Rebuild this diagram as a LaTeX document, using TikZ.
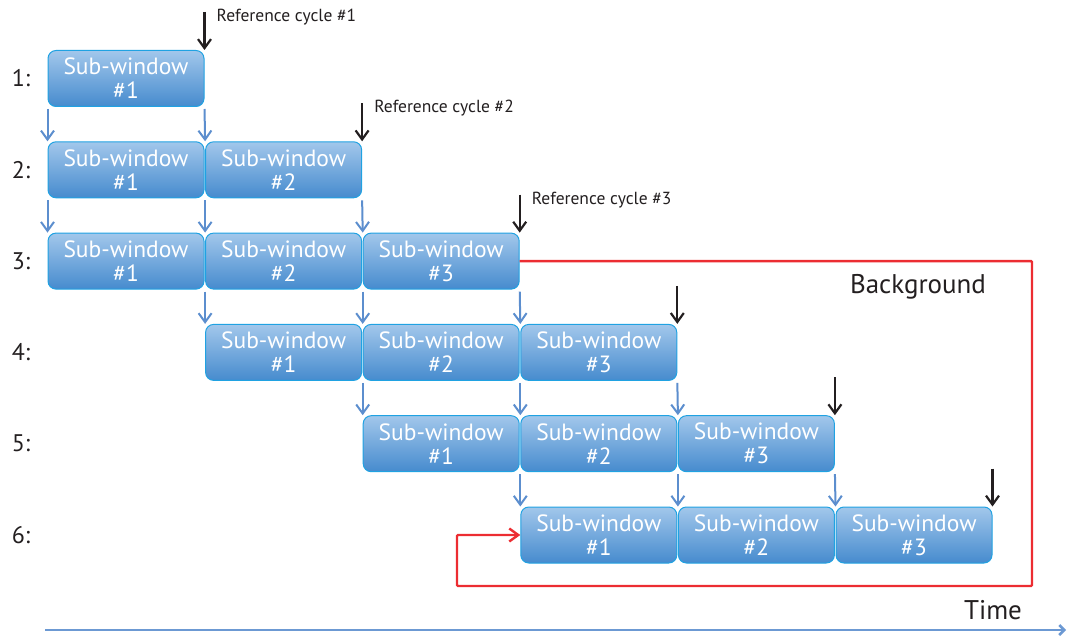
\documentclass[tikz,border=0pt]{standalone}
\usepackage{fontspec}
\setmainfont{PT Sans}
\usetikzlibrary{arrows.meta}

\definecolor{swtop}{RGB}{162,199,235}
\definecolor{swbot}{RGB}{70,139,206}
\definecolor{swline}{RGB}{32,162,226}
\definecolor{flow}{RGB}{92,142,206}
\definecolor{ink}{RGB}{35,31,32}
\definecolor{bgred}{RGB}{236,45,50}

\tikzset{
  subwin/.style={draw=swline,line width=1pt,rounded corners=8pt,
    top color=swtop,bottom color=swbot,minimum width=156pt,minimum height=56pt,
    inner sep=0pt,align=center,text=white,font=\fontsize{23.5}{24}\selectfont},
  tick/.style={-{Straight Barb[length=9pt,width=13pt]}},
  flowarrow/.style={tick,draw=flow,line width=2pt,shorten <=2pt},
  refarrow/.style={tick,draw=ink,line width=2.2pt},
  loopline/.style={tick,draw=bgred,line width=2.4pt,rounded corners=1pt},
  rowlab/.style={text=ink,font=\fontsize{24}{26}\selectfont},
  biglab/.style={text=ink,font=\fontsize{27}{29}\selectfont},
  reflab/.style={text=ink,anchor=west,inner sep=1pt,font=\fontsize{17.5}{19}\selectfont}
}

\begin{document}
\begin{tikzpicture}[x=1pt,y=-1pt]
\useasboundingbox (0,0) rectangle (1067,636);

% sub-windows, row by row
\foreach \r/\s/\n in {1/0/1,2/0/2,3/0/3,4/1/3,5/2/3,6/3/3}{
  \node[rowlab] (l\r) at (21,{78.5+91.3*(\r-1)}) {\r:};
  \foreach \k in {1,...,\n}{
    \pgfmathtruncatemacro\c{\s+\k-1}
    \node[subwin] (n\r\c) at ({126+157.6*\c},{78.5+91.3*(\r-1)}) {Sub-window\\\#\k};
  }
}

% shifting from one row to the next
\foreach \a/\b in {10/20,20/30,21/31,31/41,32/42,42/52,43/53,53/63,54/64}
  \draw[flowarrow] (n\a.south west) -- (n\b.north west);
\foreach \a/\b in {10/21,21/32,32/43,43/54,54/65}
  \draw[flowarrow] (n\a.south east) -- (n\b.north west);

% reference cycles
\foreach \r in {1,...,6}{
  \pgfmathtruncatemacro\c{\r-1}
  \coordinate (t\r) at ([yshift=38pt]n\r\c.north east);
  \draw[refarrow] (t\r) -- (n\r\c.north east);
}
\foreach \r in {1,2,3}
  \node[reflab] (c\r) at ([xshift=11pt,yshift=-5pt]t\r) {Reference cycle \#\r};

% background loop
\coordinate (bgR) at (1032,586);
\coordinate (bgL) at (457,586);
\draw[loopline] (n32.east) -| (bgR) -- (bgL) |- (n63.west);
\node[biglab] (bg) at (918,287) {Background};

% time axis
\coordinate (t0) at (45,630);
\coordinate (tE) at (1066,630);
\draw[flow!90!white,line width=2.5pt,-{Straight Barb[length=5pt,width=10pt]}] (t0) -- (tE);
\node[biglab] (time) at (993,610) {Time};
\end{tikzpicture}
\end{document}
